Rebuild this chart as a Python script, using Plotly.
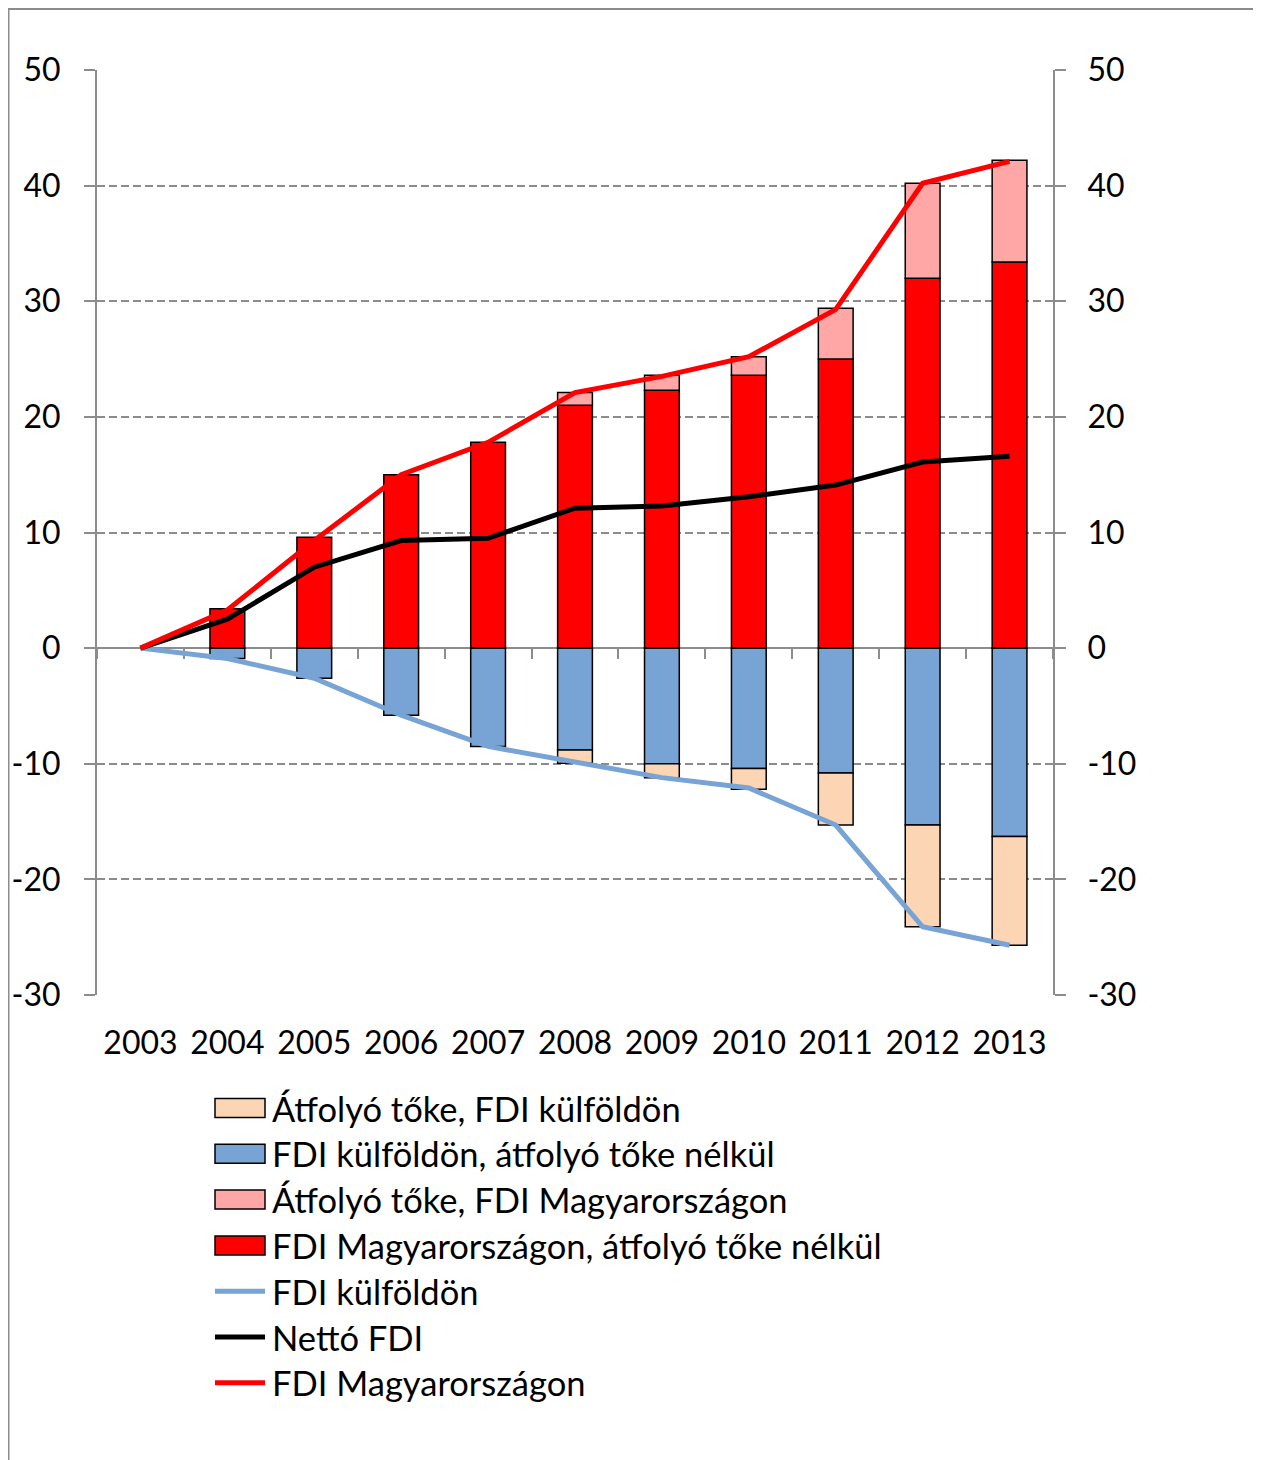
import plotly.graph_objects as go

years = ['2003', '2004', '2005', '2006', '2007', '2008', '2009', '2010', '2011', '2012', '2013']

# stacked bars (bn EUR)
hu_base = [None, 3.4, 9.6, 15.0, 17.8, 21.0, 22.3, 23.6, 25.0, 32.0, 33.4]
hu_transit = [None, None, None, None, None, 1.1, 1.3, 1.6, 4.4, 8.2, 8.8]
abroad_base = [None, -0.9, -2.6, -5.8, -8.5, -8.8, -10.0, -10.4, -10.8, -15.3, -16.3]
abroad_transit = [None, None, None, None, None, -1.15, -1.2, -1.8, -4.5, -8.8, -9.4]

# lines
abroad_total = [0, -0.9, -2.6, -5.8, -8.5, -9.9, -11.2, -12.1, -15.3, -24.1, -25.7]
net_fdi = [0, 2.5, 7.0, 9.3, 9.5, 12.1, 12.3, 13.1, 14.1, 16.1, 16.6]
hu_total = [0, 3.3, 9.3, 15.0, 17.8, 22.1, 23.5, 25.2, 29.3, 40.2, 42.1]

y_ticks = [-30, -20, -10, 0, 10, 20, 30, 40, 50]
y_labels = [str(v) for v in y_ticks]  # plain hyphen like in Excel
y_range = [-30, 50]

RED = '#FF0000'
PINK = '#FFA6A6'
BLUE = '#77A3D5'
PEACH = '#FCD5B4'
GRAY = '#8C8C8C'
FONT = 'Lato'

# the page adds an 8px body margin, so the figure is a bit smaller than the window
OFF = 8
W, H = 1261 - OFF, 1460 - OFF
# plot area, in window pixels
L, R, T, B = 97 - OFF, 1053 - OFF, 70 - OFF, 995 - OFF


def px_x(x):
    return (x - OFF - L) / (R - L)


def px_y(y):
    return (B - (y - OFF)) / (B - T)


fig = go.Figure()

bar_line = dict(color='black', width=1.5)
fig.add_trace(go.Bar(x=years, y=hu_base, name='FDI Magyarországon, átfolyó tőke nélkül',
                     marker=dict(color=RED, line=bar_line), width=0.4))
fig.add_trace(go.Bar(x=years, y=abroad_base, name='FDI külföldön, átfolyó tőke nélkül',
                     marker=dict(color=BLUE, line=bar_line), width=0.4))
fig.add_trace(go.Bar(x=years, y=hu_transit, name='Átfolyó tőke, FDI Magyarországon',
                     marker=dict(color=PINK, line=bar_line), width=0.4))
fig.add_trace(go.Bar(x=years, y=abroad_transit, name='Átfolyó tőke, FDI külföldön',
                     marker=dict(color=PEACH, line=bar_line), width=0.4))

# lines on the secondary axes (drawn above the bars)
fig.add_trace(go.Scatter(x=years, y=abroad_total, mode='lines', name='FDI külföldön',
                         line=dict(color=BLUE, width=5), xaxis='x2', yaxis='y2'))
fig.add_trace(go.Scatter(x=years, y=net_fdi, mode='lines', name='Nettó FDI',
                         line=dict(color='black', width=5), xaxis='x2', yaxis='y2'))
fig.add_trace(go.Scatter(x=years, y=hu_total, mode='lines', name='FDI Magyarországon',
                         line=dict(color=RED, width=5), xaxis='x2', yaxis='y2'))

fig.update_traces(showlegend=False, hoverinfo='skip')

tick_font = dict(family=FONT, size=32, color='black')

fig.update_layout(
    width=W, height=H, autosize=False,
    margin=dict(l=L, r=W - R, t=T, b=H - B, pad=0),
    paper_bgcolor='white', plot_bgcolor='white',
    barmode='relative',
    showlegend=False,
    font=dict(family=FONT, color='black'),
    xaxis=dict(type='category', range=[-0.5, 10.5], showline=False, showgrid=False,
               zeroline=False, ticks='', tickfont=tick_font, ticklabelstandoff=26,
               automargin=False),
    # category axis sitting on the zero line, ticks between the years
    xaxis2=dict(type='category', overlaying='x', anchor='free',
                position=-y_range[0] / (y_range[1] - y_range[0]),
                range=[-0.5, 10.5], showline=False, tickson='boundaries',
                ticks='outside', ticklen=10, tickwidth=2, tickcolor=GRAY,
                showticklabels=False, showgrid=False, zeroline=False,
                layer='below traces', automargin=False),
    yaxis=dict(range=y_range, tickvals=y_ticks, ticktext=y_labels,
               showline=True, linecolor=GRAY, linewidth=2,
               ticks='outside', ticklen=11, tickwidth=2, tickcolor=GRAY,
               showgrid=True, gridcolor=GRAY, gridwidth=1.5, griddash='8px,4px',
               zeroline=True, zerolinecolor=GRAY, zerolinewidth=2,
               tickfont=tick_font, ticklabelstandoff=17, automargin=False),
    yaxis2=dict(overlaying='y', side='right', anchor='x', range=y_range,
                tickvals=y_ticks, ticktext=y_labels,
                showline=True, linecolor=GRAY, linewidth=2,
                ticks='outside', ticklen=11, tickwidth=2, tickcolor=GRAY,
                showgrid=False, zeroline=False, tickfont=tick_font,
                ticklabelstandoff=15, automargin=False),
)

# outer frame (left and top edges are visible)
fig.add_shape(type='rect', xref='paper', yref='paper',
              x0=px_x(8.5), x1=px_x(1320), y0=px_y(1520), y1=px_y(9),
              line=dict(color=GRAY, width=2), fillcolor='rgba(0,0,0,0)', layer='below')

# legend (drawn by hand to match the Excel style boxes)
legend_items = [
    ('bar', PEACH, 'Átfolyó tőke, FDI külföldön'),
    ('bar', BLUE, 'FDI külföldön, átfolyó tőke nélkül'),
    ('bar', PINK, 'Átfolyó tőke, FDI Magyarországon'),
    ('bar', RED, 'FDI Magyarországon, átfolyó tőke nélkül'),
    ('line', BLUE, 'FDI külföldön'),
    ('line', 'black', 'Nettó FDI'),
    ('line', RED, 'FDI Magyarországon'),
]
for i, (kind, color, label) in enumerate(legend_items):
    yc = 1108 + i * 45.8
    if kind == 'bar':
        fig.add_shape(type='rect', xref='paper', yref='paper',
                      x0=px_x(215), x1=px_x(265), y0=px_y(yc + 9.5), y1=px_y(yc - 9.5),
                      line=dict(color='black', width=1.5), fillcolor=color)
    else:
        fig.add_shape(type='line', xref='paper', yref='paper',
                      x0=px_x(215), x1=px_x(265), y0=px_y(yc), y1=px_y(yc),
                      line=dict(color=color, width=5))
    fig.add_annotation(xref='paper', yref='paper', x=px_x(270), y=px_y(yc),
                       xanchor='left', yanchor='middle', text=label, showarrow=False,
                       font=dict(family=FONT, size=34.5, color='black'))

fig.write_html('out.html')
